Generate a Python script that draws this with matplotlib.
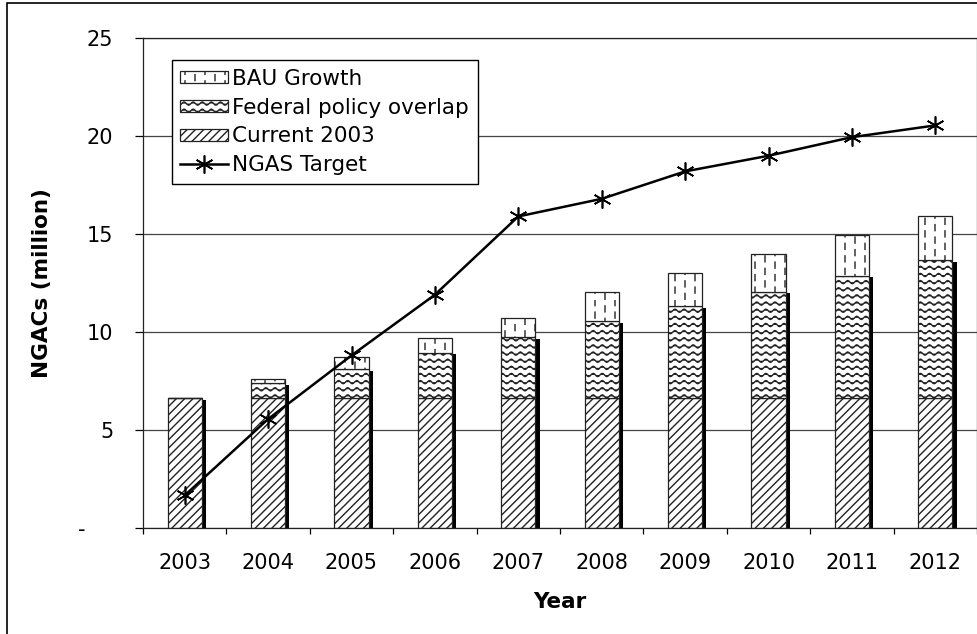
import warnings
import numpy as np
import matplotlib
matplotlib.use("Agg")
import matplotlib.pyplot as plt
from matplotlib import hatch as mhatch
from matplotlib.path import Path
from matplotlib.patches import Rectangle

# the two Excel-style fills below use their own hatch letters
warnings.filterwarnings("ignore")

years = ["2003", "2004", "2005", "2006", "2007", "2008", "2009", "2010", "2011", "2012"]
current_2003 = [6.6, 6.6, 6.6, 6.6, 6.6, 6.6, 6.6, 6.6, 6.6, 6.6]
federal_overlap = [0.0, 0.78, 1.50, 2.34, 3.13, 3.96, 4.70, 5.46, 6.27, 7.05]
bau_growth = [0.0, 0.24, 0.60, 0.74, 0.97, 1.46, 1.70, 1.91, 2.07, 2.26]
ngas_target = [1.65, 5.55, 8.8, 11.9, 15.9, 16.8, 18.2, 19.0, 19.95, 20.55]
y_ticks = [0, 5, 10, 15, 20, 25]
y_tick_labels = ["-", "5", "10", "15", "20", "25"]


class WaveHatch(mhatch.HatchPatternBase):
    # rows of small waves
    def __init__(self, hatch, density):
        self.num_rows = hatch.count("~") * 14
        self.num_pts = 11 * 8 + 1
        self.num_vertices = self.num_rows * self.num_pts

    def set_vertices_and_codes(self, vertices, codes):
        xs = np.linspace(0.0, 1.0, self.num_pts)
        for i in range(self.num_rows):
            y0 = (i + 0.5) / self.num_rows
            seg = slice(i * self.num_pts, (i + 1) * self.num_pts)
            vertices[seg, 0] = xs
            vertices[seg, 1] = y0 + 0.016 * np.sin(2 * np.pi * 11 * xs)
            codes[seg] = Path.LINETO
            codes[i * self.num_pts] = Path.MOVETO


class DashHatch(mhatch.HatchPatternBase):
    # short vertical dashes, every other column shifted
    def __init__(self, hatch, density):
        n = hatch.count(":")
        self.cols = 10 * n
        self.rows = 8 * n
        self.num_vertices = self.cols * self.rows * 2

    def set_vertices_and_codes(self, vertices, codes):
        k = 0
        for c in range(self.cols):
            xc = (c + 0.5) / self.cols
            shift = 0.5 if c % 2 else 0.0
            for r in range(self.rows):
                yc = (r + 0.05 + shift) / self.rows
                vertices[k] = (xc, yc)
                vertices[k + 1] = (xc, yc + 0.06)
                codes[k] = Path.MOVETO
                codes[k + 1] = Path.LINETO
                k += 2


mhatch._hatch_types.extend([WaveHatch, DashHatch])
plt.rcParams["hatch.linewidth"] = 1.0

x = np.arange(len(years))
cur = np.array(current_2003)
fed = np.array(federal_overlap)
fed_top = cur + fed
w = 0.41

fig = plt.figure(figsize=(9.78, 6.34), dpi=100)
ax = fig.add_axes([143 / 978, 1 - 527.7 / 634, 834 / 978, 489.4 / 634])

# dark drop shadow on the right of each column
ax.bar(x + 0.05, fed_top - 0.08, w, color="black", linewidth=0, zorder=1.5)

b_cur = ax.bar(x, cur, w, facecolor="white", edgecolor="#222222", linewidth=0.9,
               hatch="////", zorder=2, label="Current 2003")
b_fed = ax.bar(x, fed, w, bottom=cur, facecolor="white", edgecolor="#222222",
               linewidth=0.9, hatch="~", zorder=2, label="Federal policy overlap")
b_bau = ax.bar(x, bau_growth, w, bottom=fed_top, facecolor="white", edgecolor="#222222",
               linewidth=0.9, hatch=":", zorder=2, label="BAU Growth")
line, = ax.plot(x, ngas_target, color="black", lw=1.8, marker=(6, 2, 0), ms=13,
                mew=1.2, zorder=3, label="NGAS Target")

ax.set_xlim(-0.5, len(years) - 0.5)
ax.set_ylim(0, 25)
ax.set_axisbelow(True)
ax.yaxis.grid(True, color="#444444", lw=0.9)

ax.set_xticks(x)
ax.set_xticklabels(years)
ax.set_xticks(np.arange(-0.5, len(years), 1), minor=True)
ax.tick_params(axis="x", which="major", length=0, pad=18.5, labelsize=15)
ax.tick_params(axis="x", which="minor", length=4.3, width=0.9, direction="out")

ax.set_yticks(y_ticks)
ax.set_yticklabels([""] + y_tick_labels[1:])
ax.tick_params(axis="y", length=5.8, width=0.9, pad=15.5, labelsize=15)
# Excel puts the zero dash further left
ax.text(-0.0695, 0, y_tick_labels[0], transform=ax.get_yaxis_transform(),
        ha="right", va="center_baseline", fontsize=15)

for s in ax.spines.values():
    s.set_color("#222222")
    s.set_linewidth(0.9)

ax.set_xlabel("Year", fontsize=15.5, fontweight="bold")
ax.xaxis.set_label_coords(0.5, -0.132)
ax.set_ylabel("NGACs (million)", fontsize=15.5, fontweight="bold")
ax.yaxis.set_label_coords(-0.109, 0.5)

leg = ax.legend(handles=[b_bau, b_fed, b_cur, line], loc="upper left",
                bbox_to_anchor=(0.0344, 0.9547), borderaxespad=0, fontsize=15.5,
                fancybox=False, edgecolor="black", framealpha=1, borderpad=0.4,
                labelspacing=0.4, handlelength=2.2, handleheight=0.48,
                handletextpad=0.22)
leg.get_frame().set_linewidth(1.0)
leg.set_zorder(5)

# outer chart border
fig.add_artist(Rectangle((6.7 / 978, -0.1), 1.2, 1.1 - 3.3 / 634,
                         transform=fig.transFigure, fill=False,
                         edgecolor="black", lw=1.2))

fig.savefig("out.png", dpi=100)
